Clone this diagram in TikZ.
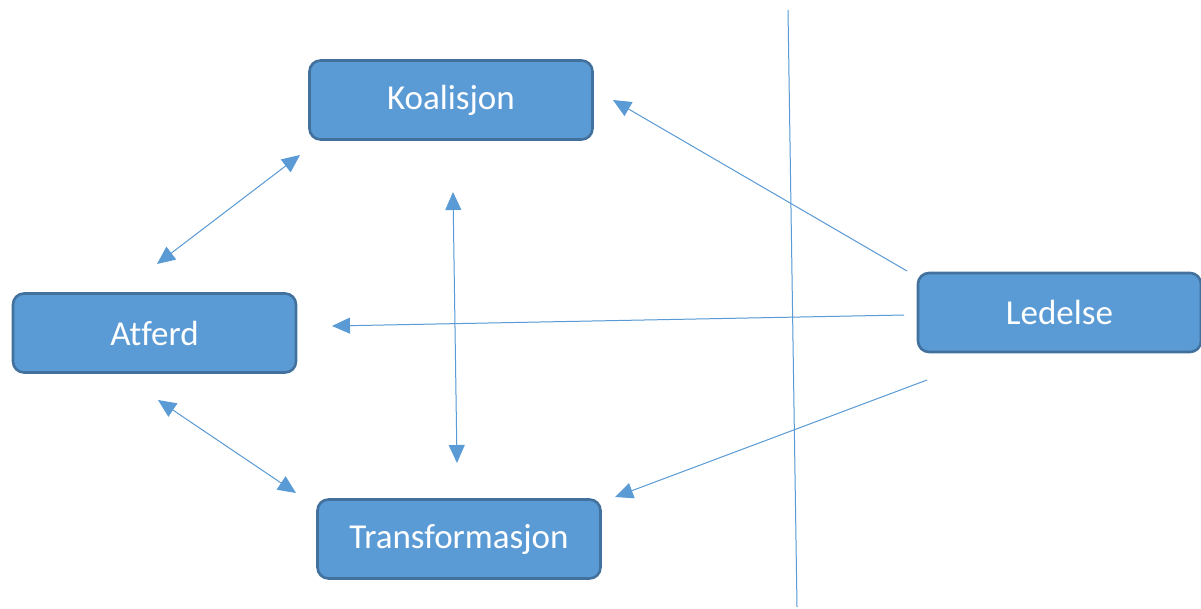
\documentclass[tikz,border=0pt]{standalone}
\usepackage{fontspec}
\setmainfont{Carlito}[Ligatures=NoCommon]
\usetikzlibrary{arrows.meta}
\definecolor{boxfill}{RGB}{91,155,213}
\definecolor{boxedge}{RGB}{65,113,156}
\definecolor{linkblue}{RGB}{91,155,213}
\begin{document}
\begin{tikzpicture}[x=1pt,y=-1pt,
  >={Triangle[length=18pt,width=16pt]},
  blok/.style={draw=boxedge, line width=2.6pt, fill=boxfill, rounded corners=11pt,
    minimum width=283pt, minimum height=79pt, inner sep=0pt, text=white,
    font=\fontsize{35}{42}\selectfont},
  link/.style={draw=linkblue, fill=linkblue, line width=1pt}]
\useasboundingbox (0,0) rectangle (1201,608);

% boxes
\node[blok] (koal) at (451,100) {Koalisjon};
\node[blok] (atf)  at (154.5,333) {Atferd};
\node[blok] (trans) at (459,539) {Transformasjon};
\node[blok] (led)  at (1059.5,312.5) {Ledelse};

% separating line
\coordinate (sepTop) at (788,10);
\coordinate (sepBot) at (797,607);
\draw[link] (sepTop) -- (sepBot);

% arrow end points
\coordinate (ak1) at (157,264);
\coordinate (ak2) at (300,155);
\coordinate (kt1) at (453,192);
\coordinate (kt2) at (457,463);
\coordinate (at1) at (158,400);
\coordinate (at2) at (296,493);
\coordinate (lk1) at (907,271);
\coordinate (lk2) at (613,100);
\coordinate (la1) at (904,315);
\coordinate (la2) at (332,326);
\coordinate (lt1) at (927,380);
\coordinate (lt2) at (615,497);

% connectors
\draw[link, <->] (ak1) -- (ak2);
\draw[link, <->] (kt1) -- (kt2);
\draw[link, <->] (at1) -- (at2);
\draw[link, ->] (lk1) -- (lk2);
\draw[link, ->] (la1) -- (la2);
\draw[link, ->] (lt1) -- (lt2);
\end{tikzpicture}
\end{document}
